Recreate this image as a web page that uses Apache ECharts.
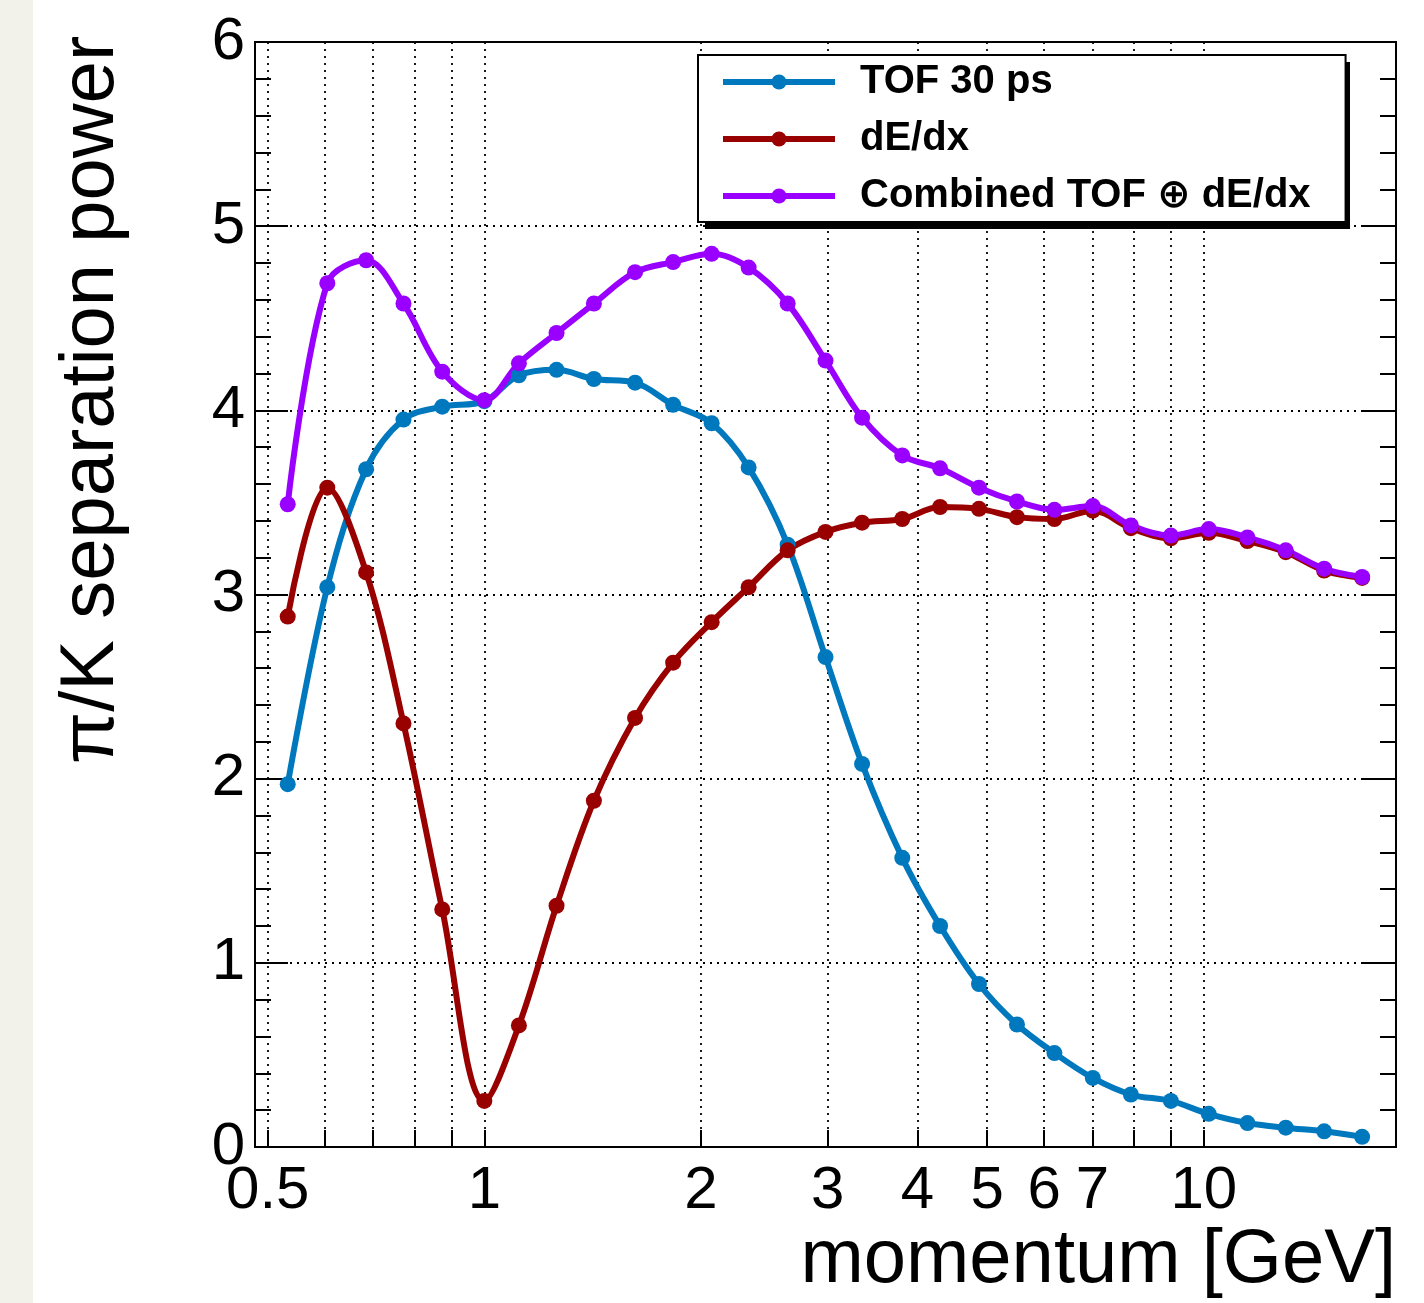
<!DOCTYPE html>
<html>
<head>
<meta charset="utf-8">
<title>pi/K separation power</title>
<script src="https://cdn.jsdelivr.net/npm/echarts@6/dist/echarts.min.js"></script>
<style>
  html, body { margin: 0; padding: 0; background: #fff; }
  #main { width: 1424px; height: 1303px; }
</style>
</head>
<body>
<div id="main"></div>
<script>
// momentum of each point [GeV]
var momentum = [0.533, 0.605, 0.685, 0.772, 0.874, 1.0, 1.117, 1.26, 1.42, 1.62,
    1.83, 2.07, 2.33, 2.64, 2.98, 3.35, 3.81, 4.30, 4.87, 5.50,
    6.20, 7.01, 7.92, 9.0, 10.16, 11.5, 13.0, 14.7, 16.6];

var tofSep = [1.97, 3.04, 3.68, 3.95, 4.02, 4.05, 4.19, 4.22, 4.17, 4.15,
    4.03, 3.93, 3.69, 3.27, 2.66, 2.08, 1.57, 1.20, 0.885, 0.665,
    0.51, 0.375, 0.285, 0.25, 0.18, 0.13, 0.105, 0.085, 0.055];

var dedxSep = [2.88, 3.58, 3.12, 2.30, 1.29, 0.25, 0.66, 1.31, 1.88, 2.33,
    2.63, 2.85, 3.04, 3.24, 3.34, 3.39, 3.41, 3.475, 3.465, 3.42,
    3.41, 3.455, 3.36, 3.305, 3.335, 3.29, 3.23, 3.13, 3.09];

var combinedSep = [3.49, 4.69, 4.815, 4.58, 4.21, 4.055, 4.255, 4.42, 4.58, 4.75,
    4.805, 4.85, 4.775, 4.58, 4.27, 3.96, 3.755, 3.685, 3.58, 3.505,
    3.46, 3.48, 3.375, 3.32, 3.355, 3.31, 3.24, 3.14, 3.095];

var seriesNames = ['TOF 30 ps', 'dE/dx', 'Combined TOF \u2295 dE/dx'];
var seriesColors = ['#0078be', '#990000', '#9900ff'];

var xTickValues = [0.5, 0.6, 0.7, 0.8, 0.9, 1, 2, 3, 4, 5, 6, 7, 8, 9, 10];
var xLabelValues = [0.5, 1, 2, 3, 4, 5, 6, 7, 10];

var FONT = '"Liberation Sans", Arial, "DejaVu Sans", sans-serif';

function pairs(xs, ys) {
    var out = [];
    for (var i = 0; i < xs.length; i++) {
        out.push([xs[i], ys[i]]);
    }
    return out;
}

function makeSeries(name, color, values) {
    return {
        name: name,
        type: 'line',
        smooth: 0.35,
        symbol: 'circle',
        symbolSize: 16,
        showAllSymbol: true,
        itemStyle: { color: color },
        lineStyle: { color: color, width: 6 },
        emphasis: { disabled: true },
        data: pairs(momentum, values)
    };
}

var dotted = { color: '#000', width: 1.8, type: [2, 5] };
var tickLine = { color: '#000', width: 2 };

var option = {
    animation: false,
    backgroundColor: '#fff',
    grid: {
        left: 255,
        right: 28,
        top: 42,
        bottom: 156,
        show: true,
        borderColor: '#000',
        borderWidth: 2,
        outerBoundsMode: 'none'
    },
    legend: {
        orient: 'vertical',
        left: 698,
        top: 55,
        padding: [7, 35, 6, 22],
        itemWidth: 112,
        itemHeight: 19,
        itemGap: 17,
        backgroundColor: '#fff',
        borderColor: '#000',
        borderWidth: 2,
        selectedMode: false,
        z: 10,
        lineStyle: { width: 6 },
        textStyle: {
            fontFamily: FONT,
            fontSize: 40,
            fontWeight: 'bold',
            color: '#000',
            lineHeight: 40,
            padding: [0, 0, 0, 20]
        },
        data: seriesNames
    },
    xAxis: {
        type: 'log',
        logBase: 10,
        min: 0.48,
        max: 18.5,
        axisLine: { show: true, lineStyle: tickLine },
        axisTick: {
            show: true,
            inside: true,
            length: 17,
            customValues: xTickValues,
            lineStyle: tickLine
        },
        axisLabel: {
            customValues: xLabelValues,
            fontFamily: FONT,
            fontSize: 60,
            color: '#000',
            margin: 14,
            formatter: function (v) { return String(v); }
        },
        splitLine: { show: true, lineStyle: dotted }
    },
    yAxis: [{
        type: 'value',
        position: 'left',
        min: 0,
        max: 6,
        interval: 1,
        axisLine: { show: true, lineStyle: tickLine },
        axisTick: { show: true, inside: true, length: 33, lineStyle: tickLine },
        minorTick: { show: true, splitNumber: 5, length: 16, lineStyle: tickLine },
        axisLabel: {
            fontFamily: FONT,
            fontSize: 60,
            color: '#000',
            margin: 10
        },
        splitLine: { show: true, lineStyle: dotted }
    }, {
        type: 'value',
        position: 'right',
        min: 0,
        max: 6,
        interval: 1,
        axisLine: { show: true, lineStyle: tickLine },
        axisTick: { show: true, inside: true, length: 33, lineStyle: tickLine },
        minorTick: { show: true, splitNumber: 5, length: 16, lineStyle: tickLine },
        axisLabel: { show: false },
        splitLine: { show: false }
    }],
    graphic: [
        {
            type: 'rect',
            left: 0,
            top: 0,
            z: -10,
            shape: { width: 33, height: 1303 },
            style: { fill: '#f2f2ea' }
        },
        {
            // drop shadow of the legend box
            type: 'rect',
            x: 705,
            y: 62,
            z: 5,
            shape: { width: 645, height: 167 },
            style: { fill: '#000' }
        },
        {
            type: 'text',
            x: 92,
            y: 400,
            rotation: Math.PI / 2,
            style: {
                text: '\u03c0/K separation power',
                font: '76px ' + FONT,
                fill: '#000',
                align: 'center',
                verticalAlign: 'middle'
            }
        },
        {
            type: 'text',
            x: 1396,
            y: 1261,
            style: {
                text: 'momentum [GeV]',
                font: '76px ' + FONT,
                fill: '#000',
                align: 'right',
                verticalAlign: 'middle'
            }
        }
    ],
    series: [
        makeSeries(seriesNames[0], seriesColors[0], tofSep),
        makeSeries(seriesNames[1], seriesColors[1], dedxSep),
        makeSeries(seriesNames[2], seriesColors[2], combinedSep)
    ]
};

var myChart = echarts.init(document.getElementById('main'));
myChart.setOption(option);
</script>
</body>
</html>
